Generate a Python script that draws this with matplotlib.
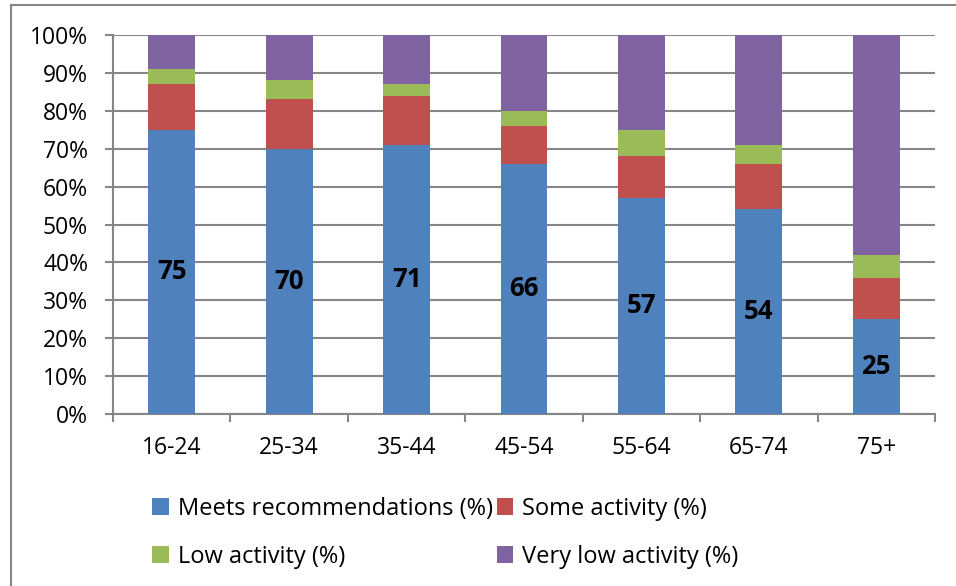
import numpy as np
import matplotlib.pyplot as plt
from matplotlib.lines import Line2D

plt.rcParams['font.family'] = ['Open Sans', 'DejaVu Sans']

ages = ['16-24', '25-34', '35-44', '45-54', '55-64', '65-74', '75+']
meets = [75, 70, 71, 66, 57, 54, 25]
some = [12, 13, 13, 10, 11, 12, 11]
low = [4, 5, 3, 4, 7, 5, 6]
very_low = [9, 12, 13, 20, 25, 29, 58]

series = [
    ('Meets recommendations (%)', meets, '#4F81BD'),
    ('Some activity (%)', some, '#C0504D'),
    ('Low activity (%)', low, '#9BBB59'),
    ('Very low activity (%)', very_low, '#8064A2'),
]
grey = '#868686'

fig = plt.figure(figsize=(9.56, 5.86), dpi=100)
ax = fig.add_axes([113/956, 1 - 414/586, 822/956, 379/586])

x = np.arange(len(ages))
totals = np.sum([s[1] for s in series], axis=0)
bottom = np.zeros(len(ages))
bars = {}
for name, vals, col in series:
    pct = np.array(vals) / totals * 100  # 100% stacked
    bars[name] = ax.bar(x, pct, 0.4, bottom=bottom, color=col, label=name, zorder=3)
    bottom += pct

# value labels in the middle of the blue segments
for xi, v in zip(x, meets):
    ax.text(xi, v / 2, str(v), ha='center', va='center', fontsize=18.5,
            fontweight='bold', zorder=4)

ax.set_xlim(-0.5, len(ages) - 0.5)
ax.set_ylim(0, 100)
ax.set_yticks(np.arange(0, 101, 10))
ax.set_yticklabels([f'{v}%' for v in range(0, 101, 10)], fontsize=16.5)
ax.set_xticks(x)
ax.set_xticklabels(ages, fontsize=16.5)
ax.set_xticks(np.arange(-0.5, len(ages)), minor=True)
ax.tick_params(axis='x', which='major', length=0, pad=16)
ax.tick_params(axis='x', which='minor', length=6, width=1.5, color=grey)
ax.tick_params(axis='y', length=6, width=1.5, color=grey, pad=12)
ax.grid(axis='y', color=grey, linewidth=1.5, zorder=0)

for side in ['top', 'right']:
    ax.spines[side].set_visible(False)
for side in ['left', 'bottom']:
    ax.spines[side].set_color(grey)
    ax.spines[side].set_linewidth(1.5)

# legend: two rows, two columns
handles = [bars[s[0]] for s in series]
labels = [s[0] for s in series]
order = [0, 2, 1, 3]
fig.legend([handles[i] for i in order], [labels[i] for i in order],
           loc='upper left', bbox_to_anchor=(152/956, 1 - 497/586), ncol=2,
           frameon=False, fontsize=17, handlelength=0.7, handleheight=0.7,
           handletextpad=0.4, columnspacing=0.15, labelspacing=1.0,
           borderpad=0, borderaxespad=0)

# chart area border
fig.add_artist(Line2D([11/956, 1], [1 - 5/586, 1 - 5/586], color=grey, linewidth=1.5))
fig.add_artist(Line2D([11/956, 11/956], [0, 1 - 5/586], color=grey, linewidth=1.5))

fig.savefig('out.png', dpi=100)
